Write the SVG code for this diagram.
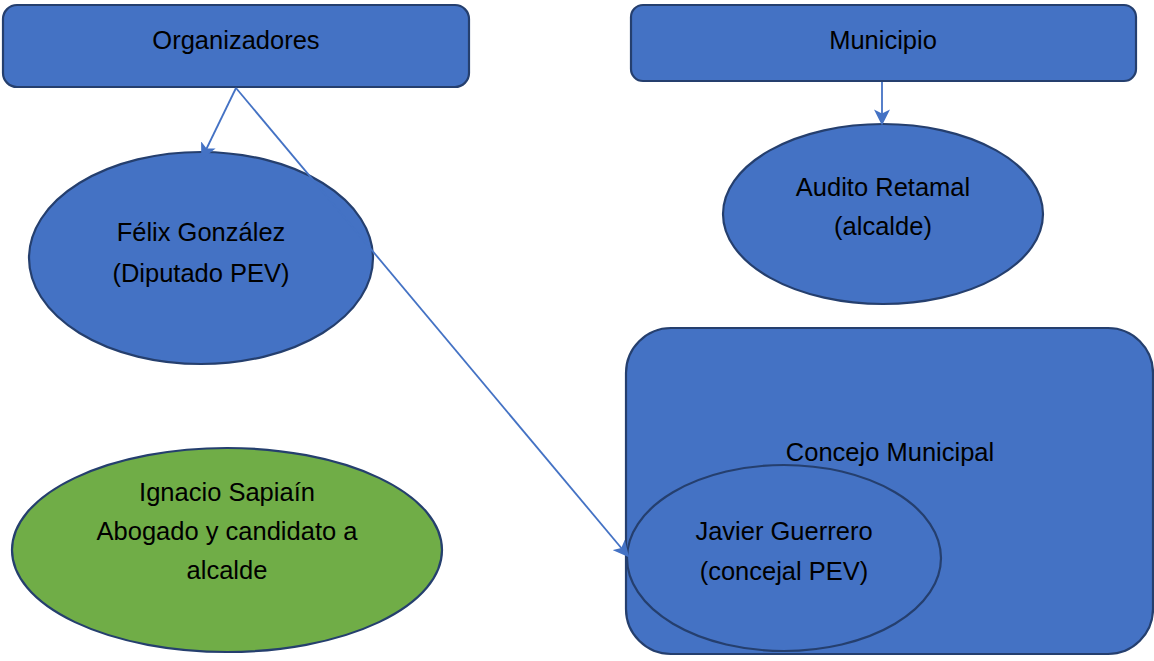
<svg xmlns="http://www.w3.org/2000/svg" width="1154" height="661" viewBox="0 0 1154 661">
<style>
.n{fill:#4472C4;stroke:#253F6E;stroke-width:2.2}
.g{fill:#70AD47;stroke:#253F6E;stroke-width:2.2}
text{font-family:"Liberation Sans",Arial,sans-serif;font-size:25.5px;fill:#000;text-anchor:middle}
.c{stroke:#4472C4;stroke-width:1.8;fill:none;marker-end:url(#ah)}
</style>
<defs>
<marker id="ah" viewBox="0 0 10 10" refX="9" refY="5" markerWidth="9" markerHeight="9" orient="auto" markerUnits="strokeWidth">
<path d="M0,0 L10,5 L0,10 L2.5,5 z" fill="#4472C4"/>
</marker>
</defs>
<rect width="1154" height="661" fill="#fff"/>
<g id="organizadores"><rect class="n" x="3" y="5" width="466" height="82" rx="14"/><text x="236" y="49">Organizadores</text></g>
<g id="municipio"><rect class="n" x="631" y="5" width="505" height="76" rx="12"/><text x="883" y="49">Municipio</text></g>
<g id="felix"><ellipse class="n" cx="201" cy="258" rx="172" ry="106"/><text x="201" y="241">Félix González</text><text x="201" y="282">(Diputado PEV)</text></g>
<g id="audito"><ellipse class="n" cx="883" cy="214" rx="160" ry="90"/><text x="883" y="196">Audito Retamal</text><text x="883" y="235">(alcalde)</text></g>
<g id="concejo"><rect class="n" x="626" y="328" width="527" height="326" rx="45"/><text x="890" y="461">Concejo Municipal</text></g>
<g id="javier"><ellipse class="n" cx="784" cy="558" rx="157" ry="93"/><text x="784" y="540">Javier Guerrero</text><text x="784" y="580">(concejal PEV)</text></g>
<g id="ignacio"><ellipse class="g" cx="227" cy="550" rx="215" ry="102"/><text x="227" y="501">Ignacio Sapiaín</text><text x="227" y="540">Abogado y candidato a</text><text x="227" y="579">alcalde</text></g>
<g id="connectors">
<line class="c" x1="236" y1="88" x2="202" y2="158"/>
<line class="c" x1="236" y1="88" x2="628" y2="556"/>
<line class="c" x1="882" y1="82" x2="882" y2="124"/>
</g>
</svg>
